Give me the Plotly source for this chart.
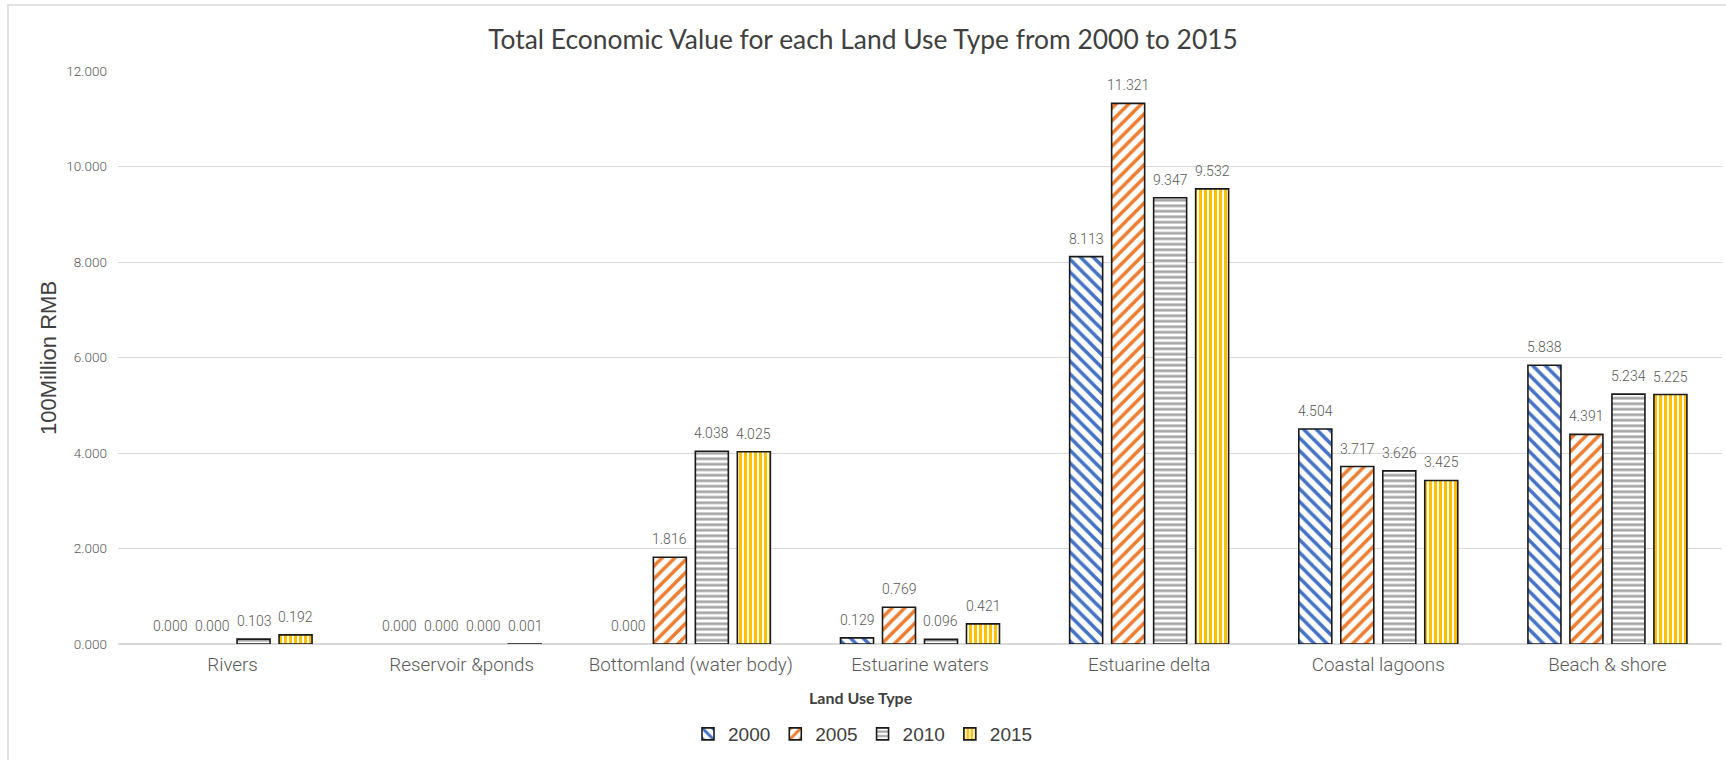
import plotly.graph_objects as go

# Land use categories and yearly economic value (100 million RMB)
categories = [
    "Rivers",
    "Reservoir &ponds",
    "Bottomland (water body)",
    "Estuarine waters",
    "Estuarine delta",
    "Coastal lagoons",
    "Beach & shore",
]
years = ["2000", "2005", "2010", "2015"]
values_2000 = [0.000, 0.000, 0.000, 0.129, 8.113, 4.504, 5.838]
values_2005 = [0.000, 0.000, 1.816, 0.769, 11.321, 3.717, 4.391]
values_2010 = [0.103, 0.000, 4.038, 0.096, 9.347, 3.626, 5.234]
values_2015 = [0.192, 0.001, 4.025, 0.421, 9.532, 3.425, 5.225]
series = [values_2000, values_2005, values_2010, values_2015]
y_ticks = [0, 2, 4, 6, 8, 10, 12]

# Styling
colors = ["#4472C4", "#ED7D31", "#A5A5A5", "#FFC000"]
shapes = ["\\", "/", "-", "|"]
pattern_size = [9, 9, 5.5, 5]
pattern_solid = [0.4, 0.4, 0.5, 0.62]
OUTLINE = "#1a1a1a"

W, H = 1726, 760
M_L, M_R, M_T, M_B = 118, 4, 71, 116
BARGAP = 0.267
BARGROUPGAP = 0.214
plot_w = W - M_L - M_R
plot_h = H - M_T - M_B
slot_px = plot_w / len(categories) * (1 - BARGAP) / len(years)


def pattern(i):
    return dict(
        shape=shapes[i],
        fgcolor=colors[i],
        bgcolor="white",
        fgopacity=1,
        size=pattern_size[i],
        solidity=pattern_solid[i],
        fillmode="replace",
    )


fig = go.Figure()
for i, (yr, vals) in enumerate(zip(years, series)):
    # zero-valued bars get no outline so nothing is drawn on the baseline
    fig.add_trace(go.Bar(
        name=yr,
        legendgroup=yr,
        offsetgroup=yr,
        showlegend=False,
        x=categories,
        y=vals,
        marker=dict(
            color="white",
            line=dict(color=OUTLINE, width=[1.6 if v > 0 else 0 for v in vals]),
            pattern=pattern(i),
        ),
        hoverinfo="x+y+name",
    ))

# Legend entries (outlined swatches), sharing each year's bar slot
for i, yr in enumerate(years):
    fig.add_trace(go.Bar(
        name=yr,
        legendgroup=yr,
        offsetgroup=yr,
        x=[None], y=[None],
        marker=dict(color="white", line=dict(color=OUTLINE, width=1.6),
                    pattern=pattern(i)),
        hoverinfo="skip",
    ))

# Value labels above each bar
annotations = []
for i, vals in enumerate(series):
    for cat, v in zip(categories, vals):
        annotations.append(dict(
            x=cat, y=v, xref="x", yref="y",
            text=f"{v:.3f}",
            showarrow=False,
            yanchor="bottom",
            xshift=(i - (len(years) - 1) / 2) * slot_px,
            yshift=8,
            font=dict(family="Roboto", size=14, color="#595959", weight=300),
        ))

# Axis titles
annotations.append(dict(
    text="100Million RMB", textangle=-90, showarrow=False,
    xref="paper", yref="paper",
    x=(48 - M_L) / plot_w, y=(H - M_B - 358) / plot_h,
    xanchor="center", yanchor="middle",
    font=dict(family="Liberation Sans", size=22, color="#404040"),
))
annotations.append(dict(
    text="<b>Land Use Type</b>", showarrow=False,
    xref="paper", yref="paper",
    x=(861 - M_L) / plot_w, y=(H - M_B - 697) / plot_h,
    xanchor="center", yanchor="middle",
    font=dict(family="Lato", size=16, color="#404040"),
))

fig.update_layout(
    width=W, height=H,
    margin=dict(l=M_L, r=M_R, t=M_T, b=M_B, pad=0),
    paper_bgcolor="white",
    plot_bgcolor="white",
    barmode="group",
    bargap=BARGAP,
    bargroupgap=BARGROUPGAP,
    title=dict(
        text="Total Economic Value for each Land Use Type from 2000 to 2015",
        x=0.5, xanchor="center", xref="container",
        y=1 - 40 / H, yanchor="middle", yref="container",
        font=dict(family="Lato", size=26.4, color="#404040"),
    ),
    xaxis=dict(
        type="category",
        categoryarray=categories,
        showgrid=False,
        showline=False,
        ticks="",
        ticklabelstandoff=7,
        tickfont=dict(family="Roboto", size=18.8, color="#595959", weight=300),
    ),
    yaxis=dict(
        range=[0, 12],
        tickvals=y_ticks,
        ticktext=[f"{t:.3f}" for t in y_ticks],
        showgrid=True,
        gridcolor="#D9D9D9",
        gridwidth=1.3,
        zeroline=True,
        zerolinecolor="#D9D9D9",
        zerolinewidth=1.6,
        showline=False,
        ticks="",
        ticklabelstandoff=10,
        tickfont=dict(family="Roboto", size=13.5, color="#595959", weight=300),
    ),
    legend=dict(
        orientation="h",
        xref="container", yref="container",
        x=0.5, xanchor="center",
        y=1 - 734 / H, yanchor="middle",
        font=dict(family="Liberation Sans", size=19, color="#404040"),
        itemwidth=30,
        traceorder="normal",
    ),
    annotations=annotations,
    shapes=[dict(
        type="rect", xref="paper", yref="paper",
        x0=(8 - M_L) / plot_w, x1=1.05,
        y0=-0.5, y1=(H - M_B - 5) / plot_h,
        line=dict(color="#D9D9D9", width=1.5),
        fillcolor="rgba(0,0,0,0)",
        layer="below",
    )],
    showlegend=True,
)

fig.write_html("out.html")
